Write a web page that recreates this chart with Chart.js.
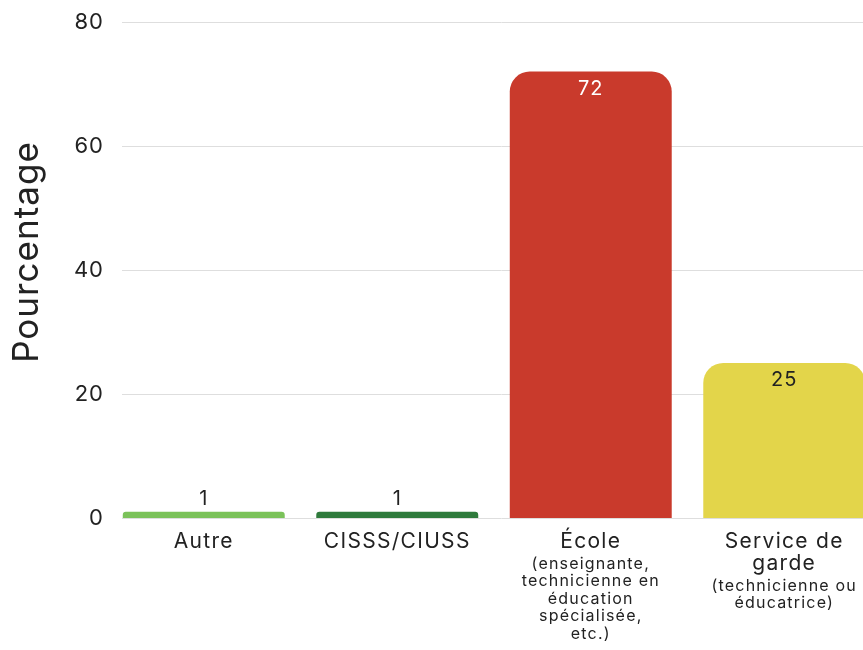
<!DOCTYPE html>
<html>
<head>
<meta charset="utf-8">
<script src="https://cdn.jsdelivr.net/npm/chart.js@4"></script>
<style>
  html, body { margin: 0; padding: 0; background: #fff; overflow: hidden; }
  #wrap { width: 881px; height: 650px; }
</style>
</head>
<body>
<div id="wrap"><canvas id="chartArea" width="881" height="650"></canvas></div>
<script>
// data
var categories = ['Autre', 'CISSS/CIUSS', 'École', 'Service de garde'];
var mainLines = [['Autre'], ['CISSS/CIUSS'], ['École'], ['Service de', 'garde']];
var subLines = [[], [], ['(enseignante,', 'technicienne en', 'éducation', 'spécialisée,', 'etc.)'], ['(technicienne ou', 'éducatrice)']];
var values = [1, 1, 72, 25];
var barColors = ['#7bc25a', '#2f7a3c', '#c93a2c', '#e3d54a'];
var labelColors = ['#222', '#222', '#ffffff', '#222'];
var yTicks = [0, 20, 40, 60, 80];
var yTitle = 'Pourcentage';

var FONT = 'Inter, "Noto Sans", sans-serif';

// wider letter spacing to get closer to the original geometric font
var spacingPlugin = {
    id: 'spacing',
    beforeDraw: function(chart) {
        chart.ctx.letterSpacing = '1px';
    }
};

// horizontal grid lines, starting a bit right of the axis like the original
var gridPlugin = {
    id: 'gridLines',
    beforeDatasetsDraw: function(chart) {
        var ctx = chart.ctx;
        var y = chart.scales.y;
        var area = chart.chartArea;
        ctx.save();
        ctx.strokeStyle = '#dedede';
        ctx.lineWidth = 1;
        yTicks.forEach(function(t) {
            var py = Math.round(y.getPixelForValue(t)) + 0.5;
            ctx.beginPath();
            ctx.moveTo(area.left + 15, py);
            ctx.lineTo(area.right, py);
            ctx.stroke();
        });
        ctx.restore();
    }
};

// y title, value labels + multi-size category labels
var labelPlugin = {
    id: 'labels',
    afterDatasetsDraw: function(chart) {
        var ctx = chart.ctx;
        var x = chart.scales.x;
        var meta = chart.getDatasetMeta(0);
        ctx.save();
        ctx.textAlign = 'center';
        ctx.textBaseline = 'middle';

        // axis title sits a bit above the middle of the plot in the original
        ctx.save();
        ctx.translate(27, 252);
        ctx.rotate(-Math.PI / 2);
        ctx.font = '35px ' + FONT;
        ctx.letterSpacing = '1px';
        ctx.fillStyle = '#222';
        ctx.fillText(yTitle, 0, 0);
        ctx.restore();

        ctx.letterSpacing = '1px';
        meta.data.forEach(function(bar, i) {
            ctx.font = '20px ' + FONT;
            if (values[i] > 10) {
                ctx.fillStyle = labelColors[i];
                ctx.fillText(String(values[i]), bar.x, bar.y + 17);
            } else {
                ctx.fillStyle = '#222';
                ctx.fillText(String(values[i]), bar.x, bar.y - 13);
            }
        });

        categories.forEach(function(c, i) {
            var cx = x.getPixelForValue(i);
            var cy = chart.chartArea.bottom + 24;
            ctx.fillStyle = '#222';
            ctx.font = '21px ' + FONT;
            ctx.letterSpacing = '1.3px';
            mainLines[i].forEach(function(line, k) {
                ctx.fillText(line, cx, cy);
                if (k < mainLines[i].length - 1) cy += 22;
            });
            cy += 22;
            ctx.font = '16px ' + FONT;
            ctx.letterSpacing = '1.2px';
            subLines[i].forEach(function(line) {
                ctx.fillText(line, cx, cy);
                cy += 17.5;
            });
        });
        ctx.restore();
    }
};

var ctx = document.getElementById('chartArea').getContext('2d');
var myChart = new Chart(ctx, {
    type: 'bar',
    data: {
        labels: categories,
        datasets: [{
            data: values,
            backgroundColor: barColors,
            borderWidth: 0,
            borderRadius: { topLeft: 20, topRight: 20, bottomLeft: 0, bottomRight: 0 },
            borderSkipped: 'start',
            categoryPercentage: 1,
            barPercentage: 0.837
        }]
    },
    options: {
        responsive: false,
        animation: false,
        layout: { padding: { top: 22, right: 0, bottom: 0, left: 0 } },
        plugins: {
            legend: { display: false },
            tooltip: { enabled: false }
        },
        scales: {
            x: {
                grid: { display: false },
                border: { display: false },
                ticks: { display: false },
                afterFit: function(scale) { scale.height = 132; }
            },
            y: {
                min: 0,
                max: 80,
                afterBuildTicks: function(scale) {
                    scale.ticks = yTicks.map(function(v) { return { value: v }; });
                },
                grid: { display: false, drawTicks: false },
                border: { display: false },
                ticks: {
                    font: { family: FONT, size: 22 },
                    color: '#222',
                    padding: 3
                },
                afterFit: function(scale) { scale.width = 107; }
            }
        }
    },
    plugins: [spacingPlugin, gridPlugin, labelPlugin]
});
</script>
</body>
</html>
